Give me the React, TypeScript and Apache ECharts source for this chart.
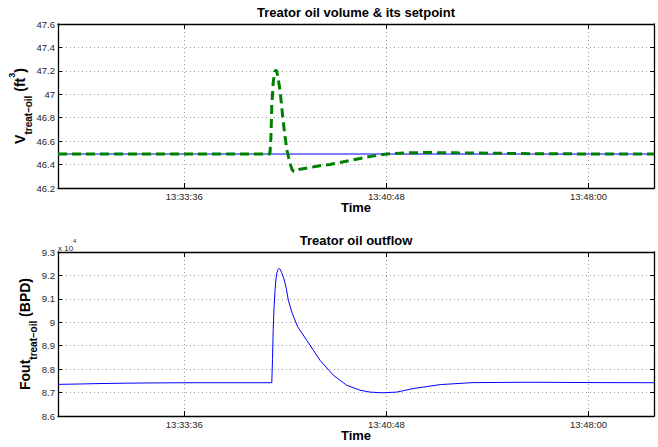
import React, { useEffect, useRef } from "react";
import * as echarts from "echarts";

// Time is stored as seconds after midnight
const xMin = 48546; // 13:29:06
const xMax = 49820; // 13:50:20
const xTickValues = [48816, 49248, 49680]; // 13:33:36, 13:40:48, 13:48:00

const setpointTimes = [48546, 49820];
const setpointValues = [46.49, 46.49];

const volumeTimes = [
  48546, 48999, 49001, 49003, 49006, 49009, 49012, 49015, 49018, 49021, 49024,
  49027, 49031, 49035, 49039, 49043, 49046, 49050, 49056, 49063, 49085, 49106,
  49127, 49149, 49170, 49192, 49215, 49235, 49250, 49290, 49330, 49400, 49480,
  49560, 49820,
];
const volumeValues = [
  46.49, 46.49, 46.62, 46.9, 47.1, 47.19, 47.21, 47.17, 47.1, 47.02, 46.9,
  46.78, 46.65, 46.53, 46.46, 46.4, 46.36, 46.34, 46.345, 46.36, 46.375, 46.39,
  46.4, 46.417, 46.435, 46.452, 46.47, 46.483, 46.49, 46.5, 46.503, 46.5,
  46.497, 46.492, 46.49,
];

const flowTimes = [
  48546, 48590, 48636, 48690, 48743, 48800, 48850, 49003, 49004.5, 49006,
  49008, 49010, 49012, 49014, 49016.5, 49019, 49021.5, 49024, 49027.7, 49031,
  49034, 49038.4, 49046.3, 49058.5, 49077.8, 49106, 49134.6, 49163.3, 49192,
  49213, 49239, 49270, 49305, 49363, 49433.5, 49555, 49705, 49820,
];
const flowValues = [
  87350, 87365, 87385, 87400, 87410, 87418, 87420, 87420, 88400, 89700, 90700,
  91400, 91850, 92120, 92260, 92300, 92240, 92120, 91930, 91700, 91440, 90940,
  90400, 89800, 89230, 88380, 87740, 87310, 87100, 87020, 86990, 87020, 87170,
  87340, 87425, 87440, 87425, 87420,
];

const volumeTicks = { min: 46.2, max: 47.6, interval: 0.2 };
const flowTicks = { min: 86000, max: 93000, interval: 1000 };

const FONT = "'Liberation Sans', Arial, Helvetica, sans-serif";

const pad = (n: number) => (n < 10 ? "0" + n : "" + n);
const fmtTime = (s: number) => {
  const t = Math.round(s);
  const h = Math.floor(t / 3600);
  const m = Math.floor((t % 3600) / 60);
  const sec = t % 60;
  return `${pad(h)}:${pad(m)}:${pad(sec)}`;
};

const zip = (a: number[], b: number[]) => a.map((v, i) => [v, b[i]]);

function xAxes(gridIndex: number) {
  const dotted = { color: "#9a9a9a", width: 1, type: [1, 3] as any };
  return [
    {
      type: "value",
      gridIndex,
      position: "bottom",
      min: xMin,
      max: xMax,
      axisLine: { show: true, onZero: false, lineStyle: { color: "#000", width: 1.3 } },
      axisTick: { show: true, inside: true, length: 5, customValues: xTickValues, lineStyle: { color: "#000" } },
      axisLabel: {
        show: true,
        customValues: xTickValues,
        formatter: (v: number) => fmtTime(v),
        fontSize: 9.5,
        color: "#262626",
        fontFamily: FONT,
        margin: 3,
      },
      splitLine: { show: true, lineStyle: dotted },
    },
    {
      type: "value",
      gridIndex,
      position: "top",
      min: xMin,
      max: xMax,
      axisLine: { show: true, onZero: false, lineStyle: { color: "#000", width: 1.3 } },
      axisTick: { show: true, inside: true, length: 5, customValues: xTickValues, lineStyle: { color: "#000" } },
      axisLabel: { show: false },
      splitLine: { show: false },
    },
  ];
}

function yAxes(gridIndex: number, ticks: { min: number; max: number; interval: number }, formatter?: (v: number) => string) {
  const dotted = { color: "#9a9a9a", width: 1, type: [1, 3] as any };
  return [
    {
      type: "value",
      gridIndex,
      position: "left",
      min: ticks.min,
      max: ticks.max,
      interval: ticks.interval,
      axisLine: { show: true, onZero: false, lineStyle: { color: "#000", width: 1.3 } },
      axisTick: { show: true, inside: true, length: 4, lineStyle: { color: "#000" } },
      axisLabel: {
        show: true,
        fontSize: 9.5,
        color: "#262626",
        fontFamily: FONT,
        margin: 3,
        formatter: formatter,
      },
      splitLine: { show: true, lineStyle: dotted },
    },
    {
      type: "value",
      gridIndex,
      position: "right",
      min: ticks.min,
      max: ticks.max,
      interval: ticks.interval,
      axisLine: { show: true, onZero: false, lineStyle: { color: "#000", width: 1.3 } },
      axisTick: { show: true, inside: true, length: 4, lineStyle: { color: "#000" } },
      axisLabel: { show: false },
      splitLine: { show: false },
    },
  ];
}

function yLabel(x: number, y: number, main: string, sub: string, rest: string, sup?: string) {
  const text = sup
    ? `{m|${main}}{s|${sub}}{m|${rest}}{p|${sup}}{m|)}`
    : `{m|${main}}{s|${sub}}{m|${rest}}`;
  return {
    type: "text",
    x,
    y,
    rotation: Math.PI / 2,
    style: {
      text,
      align: "center",
      verticalAlign: "middle",
      fill: "#000",
      fontFamily: FONT,
      rich: {
        m: { fontSize: 14, fontWeight: "bold", fontFamily: FONT, lineHeight: 26, verticalAlign: "middle", fill: "#000" },
        s: { fontSize: 10, fontWeight: "bold", fontFamily: FONT, lineHeight: 12, verticalAlign: "bottom", fill: "#000" },
        p: { fontSize: 9, fontWeight: "bold", fontFamily: FONT, lineHeight: 16, verticalAlign: "top", fill: "#000" },
      },
    },
  };
}

function centerText(x: number, y: number, text: string, size: number) {
  return {
    type: "text",
    x,
    y,
    style: {
      text,
      align: "center",
      verticalAlign: "middle",
      fill: "#000",
      fontFamily: FONT,
      fontSize: size,
      fontWeight: "bold",
    },
  };
}

export default function App() {
  const ref = useRef<HTMLDivElement>(null);
  useEffect(() => {
    if (!ref.current) return;
    const chart = echarts.init(ref.current, undefined, { renderer: "svg" });
    const option: any = {
      animation: false,
      backgroundColor: "#fff",
      textStyle: { fontFamily: FONT },
      grid: [
        { left: 58, right: 4, top: 24, height: 164, containLabel: false, outerBoundsMode: "none" },
        { left: 58, right: 4, top: 252, height: 164, containLabel: false, outerBoundsMode: "none" },
      ],
      xAxis: [...xAxes(0), ...xAxes(1)],
      yAxis: [
        ...yAxes(0, volumeTicks),
        ...yAxes(1, flowTicks, (v: number) => String(+(v / 10000).toFixed(2))),
      ],
      series: [
        {
          type: "line",
          name: "setpoint",
          xAxisIndex: 0,
          yAxisIndex: 0,
          data: zip(setpointTimes, setpointValues),
          showSymbol: false,
          symbol: "none",
          lineStyle: { color: "#0000ff", width: 1 },
          z: 2,
        },
        {
          type: "line",
          name: "volume",
          xAxisIndex: 0,
          yAxisIndex: 0,
          data: zip(volumeTimes, volumeValues),
          showSymbol: false,
          symbol: "none",
          lineStyle: { color: "#008000", width: 3, type: [9, 5] },
          z: 3,
        },
        {
          type: "line",
          name: "outflow",
          xAxisIndex: 2,
          yAxisIndex: 2,
          data: zip(flowTimes, flowValues),
          showSymbol: false,
          symbol: "none",
          lineStyle: { color: "#0000ff", width: 1 },
          z: 2,
        },
      ],
      graphic: [
        centerText(356, 12, "Treator oil volume & its setpoint", 13),
        centerText(356, 240, "Treator oil outflow", 13),
        centerText(356, 207, "Time", 13),
        centerText(356, 435, "Time", 13),
        yLabel(20, 106, "V", "treat–oil", " (ft", "3"),
        yLabel(25, 334, "Fout", "treat–oil", " (BPD)"),
        {
          type: "text",
          x: 58,
          y: 245,
          style: {
            text: "{a|x 10}{b|4}",
            align: "left",
            verticalAlign: "middle",
            fontFamily: FONT,
            rich: {
              a: { fontSize: 8, fontFamily: FONT, fill: "#262626", lineHeight: 14, verticalAlign: "bottom" },
              b: { fontSize: 6, fontFamily: FONT, fill: "#262626", lineHeight: 10, verticalAlign: "top" },
            },
          },
        },
      ],
    };
    chart.setOption(option);
    return () => chart.dispose();
  }, []);
  return (
    <div
      ref={ref}
      style={{ position: "fixed", left: 0, top: 0, width: 658, height: 447, background: "#fff" }}
    />
  );
}
